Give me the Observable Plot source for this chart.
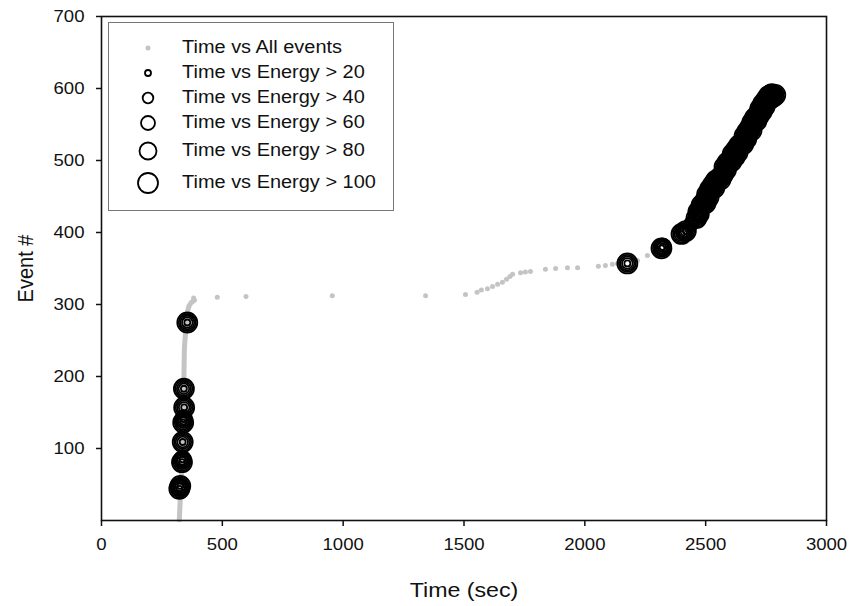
<!DOCTYPE html>
<html>
<head>
<meta charset="utf-8">
<script src="https://cdn.jsdelivr.net/npm/d3@7"></script>
<script src="https://cdn.jsdelivr.net/npm/@observablehq/plot@0.6"></script>
<style>
  html, body { margin: 0; padding: 0; background: #fff; }
  #wrap { position: relative; width: 849px; height: 606px; font-family: "Liberation Sans", Arial, sans-serif; }
  #legend { position: absolute; left: 108px; top: 22px; width: 286px; height: 189px; border: 1px solid #777; background: #fff; box-sizing: border-box; }
  .row { position: absolute; left: 0; height: 0; }
  .row svg { position: absolute; left: 17px; top: -12px; overflow: visible; }
  .row span { position: absolute; left: 73px; top: -11px; font-size: 17.5px; line-height: 20px; color: #111; white-space: nowrap; transform: scaleX(1.14); transform-origin: 0 50%; }
</style>
</head>
<body>
<div id="wrap"></div>
<script>
// ---- axis ticks ----
const xTicks = [0, 500, 1000, 1500, 2000, 2500, 3000];
const yTicks = [100, 200, 300, 400, 500, 600, 700];

// ---- series names / thresholds ----
const seriesNames = ["Time vs All events", "Time vs Energy > 20", "Time vs Energy > 40",
                     "Time vs Energy > 60", "Time vs Energy > 80", "Time vs Energy > 100"];
const thresholds = [20, 40, 60, 80, 100];

// ---- All events: dense run near t≈330 s (drawn as a thick trace of touching dots) ----
const runT  = [322, 326, 330, 335, 340, 341, 343, 350, 356, 362, 372, 385];
const runEv = [1,   30,  60,  100, 150, 200, 240, 270, 290, 298, 303, 306];

// ---- All events: individually visible points ----
const allT  = [381, 479, 598, 955, 1341, 1506, 1554, 1572, 1597, 1618, 1639, 1659, 1676, 1690, 1701,
               1734, 1754, 1775, 1837, 1879, 1928, 1970, 2056, 2085, 2114, 2135, 2218, 2259];
const allEv = [309, 310, 311, 312, 312, 314, 317, 320, 322, 325, 328, 331, 335, 339, 342,
               344, 345, 346, 349, 350, 351, 351, 353, 354, 356, 357, 361, 368];

// ---- high-energy events: time, event #, energy ----
const hitT = [
  // early cluster
  322, 326, 333, 335, 336, 338, 340, 342, 341, 355,
  // late cluster
  2176, 2317, 2322, 2400, 2418, 2440,
  2462, 2478, 2470, 2490, 2483, 2500, 2494, 2512, 2506, 2525, 2518, 2536, 2530, 2548, 2542, 2562,
  2555, 2572, 2566, 2584, 2578, 2596, 2590, 2607, 2601, 2620, 2612, 2632, 2626, 2645, 2638, 2656,
  2650, 2668, 2661, 2680, 2672, 2690, 2684, 2700, 2693, 2710, 2704, 2720, 2714, 2732, 2726, 2744,
  2738, 2756, 2752, 2768, 2762, 2780, 2788, 2774];
const hitEv = [
  44, 48, 81, 85, 109, 136, 141, 157, 183, 275,
  357, 378, 380, 398, 402, 412,
  420, 425, 429, 433, 438, 441, 446, 449, 453, 456, 460, 462, 466, 468, 472, 474,
  478, 481, 485, 487, 491, 493, 497, 499, 503, 505, 509, 511, 515, 517, 521, 523,
  527, 530, 534, 536, 540, 542, 546, 549, 553, 555, 559, 562, 566, 568, 572, 575,
  579, 581, 585, 586, 590, 589, 591, 592];
const hitE = [
  115, 125, 110, 95, 120, 110, 90, 125, 105, 130,
  105, 125, 90, 110, 120, 75,
  130, 95, 140, 60, 115, 105, 88, 125, 110, 45, 130, 102, 120, 95, 140, 110,
  85, 125, 75, 115, 130, 90, 110, 120, 85, 125, 110, 105, 135, 70, 120, 115,
  95, 130, 110, 88, 125, 105, 140, 65, 120, 110, 100.5, 130, 90, 115, 125, 105,
  135, 95, 120, 110, 130, 105, 115, 125];

const radii = [3, 5.3, 7, 8.5, 10];

const run = runT.map((t, i) => ({t, ev: runEv[i]}));
const all = allT.map((t, i) => ({t, ev: allEv[i]}));
const hits = hitT.map((t, i) => ({t, ev: hitEv[i], e: hitE[i]}));

const GRAY = "#c4c4c4";

const svg = Plot.plot({
  width: 849, height: 606,
  marginLeft: 101, marginRight: 23, marginTop: 16, marginBottom: 86,
  style: {fontFamily: "'Liberation Sans', Arial, sans-serif", fontSize: "16px", color: "#111", background: "#fff", overflow: "visible"},
  x: {domain: [0, 3000]},
  y: {domain: [0, 700]},
  marks: [
    Plot.line(run, {x: "t", y: "ev", stroke: GRAY, strokeWidth: 5, strokeLinecap: "round", strokeLinejoin: "round"}),
    Plot.dot(all, {x: "t", y: "ev", r: 2.5, fill: GRAY}),
    ...thresholds.map((th, i) => Plot.dot(hits.filter(d => d.e > th),
      {x: "t", y: "ev", r: radii[i], stroke: "#000", strokeWidth: 1.8, fill: "none"})),
    Plot.frame({stroke: "#111", strokeWidth: 1.6}),
    Plot.axisX({ticks: xTicks, tickFormat: "d", tickSize: 6, tickPadding: 12, strokeWidth: 1.5,
                label: "Time (sec)", labelArrow: "none", labelAnchor: "center", labelOffset: 76}),
    Plot.axisY({ticks: yTicks, tickFormat: "d", tickSize: 5, tickPadding: 12, strokeWidth: 1.5,
                label: "Event #", labelArrow: "none", labelAnchor: "center", labelOffset: 84})
  ]
});

// horizontal stretch of text to match the reference's wide glyphs
svg.querySelectorAll("text").forEach(t => {
  const tr = t.getAttribute("transform") || "";
  if (tr.includes("rotate")) t.setAttribute("transform", tr + " scale(1,1.12)");
  else t.setAttribute("transform", tr + " scale(1.16,1)");
});
svg.querySelectorAll('g[aria-label="x-axis label"] text, g[aria-label="y-axis label"] text').forEach(t => {
  t.textContent = t.textContent.replace(/[\u2190-\u2193]/g, "").trim();
  t.setAttribute("font-size", "20px");
});

const wrap = document.getElementById("wrap");
wrap.appendChild(svg);

// legend
const legend = document.createElement("div");
legend.id = "legend";
const rowTops = [25, 50, 75, 100, 128, 160];
seriesNames.forEach((name, i) => {
  const row = document.createElement("div");
  row.className = "row";
  row.style.top = rowTops[i] + "px";
  const sym = i === 0
    ? `<circle cx="22" cy="12" r="2.5" fill="${GRAY}"/>`
    : `<circle cx="22" cy="12" r="${radii[i - 1]}" fill="none" stroke="#000" stroke-width="1.8"/>`;
  row.innerHTML = `<svg width="44" height="24">${sym}</svg><span>${name}</span>`;
  legend.appendChild(row);
});
wrap.appendChild(legend);
</script>
</body>
</html>
